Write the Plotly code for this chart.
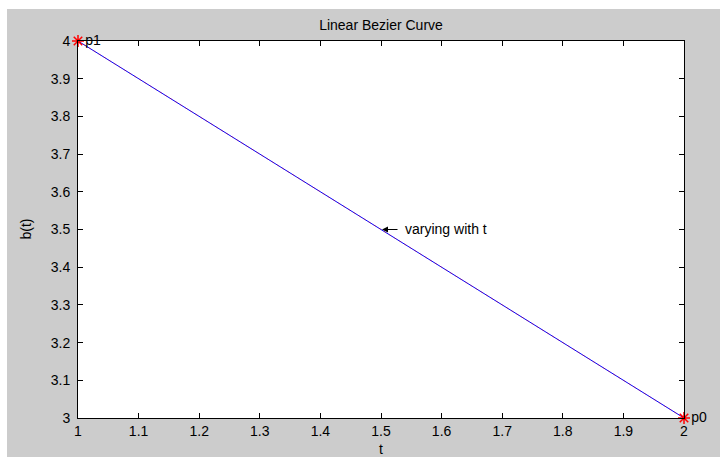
import plotly.graph_objects as go

# Data
t_vals = [1.0, 2.0]
b_vals = [4.0, 3.0]
pt_x = [1.0, 2.0]
pt_y = [4.0, 3.0]
pt_labels = ["p1", "p0"]
note_x, note_y, note_text = 1.5, 3.5, "varying with t"
x_ticks = [1, 1.1, 1.2, 1.3, 1.4, 1.5, 1.6, 1.7, 1.8, 1.9, 2]
y_ticks = [3, 3.1, 3.2, 3.3, 3.4, 3.5, 3.6, 3.7, 3.8, 3.9, 4]
x_title, y_title, main_title = "t", "b(t)", "Linear Bezier Curve"

W, H = 720, 457
L, R, T, B = 78, 36, 41, 39
pw, ph = W - L - R, H - T - B
FONT = "Liberation Sans, Arial"

def px2x(px):
    return (px - L) / pw

def py2y(py):
    return (H - B - py) / ph

fig = go.Figure()
fig.add_trace(go.Scatter(x=t_vals, y=b_vals, mode="lines",
                         line=dict(color="#0000ff", width=1), showlegend=False))
fig.add_trace(go.Scatter(x=t_vals, y=b_vals, mode="lines",
                         line=dict(color="#ff0000", width=1, dash="dot"),
                         opacity=0.35, showlegend=False))
fig.add_trace(go.Scatter(x=pt_x, y=pt_y, mode="markers+text",
                         marker=dict(symbol="asterisk", color="#ff0000", size=10,
                                     line=dict(color="#ff0000", width=1.5)),
                         text=pt_labels, textposition="middle right",
                         textfont=dict(family=FONT, size=14, color="#000000"),
                         cliponaxis=False, showlegend=False))

# arrow pointing at the curve
fig.add_annotation(x=note_x, y=note_y, text="", showarrow=True,
                   ax=18, ay=0, axref="pixel", ayref="pixel",
                   arrowhead=2, arrowsize=1, arrowwidth=1.2, arrowcolor="#000000",
                   standoff=1)
fig.add_annotation(x=note_x, y=note_y, text=note_text, showarrow=False,
                   xanchor="left", yanchor="middle", xshift=22, yshift=1,
                   font=dict(family=FONT, size=14, color="#000000"))

# axis titles
fig.add_annotation(xref="paper", yref="paper", x=0.5, y=py2y(449),
                   text=x_title, showarrow=False, xanchor="center", yanchor="middle",
                   font=dict(family=FONT, size=14, color="#000000"))
fig.add_annotation(xref="paper", yref="paper", x=px2x(25), y=0.5,
                   text=y_title, showarrow=False, textangle=-90,
                   xanchor="center", yanchor="middle",
                   font=dict(family=FONT, size=14, color="#000000"))

shapes = [
    dict(type="rect", xref="paper", yref="paper",
         x0=px2x(0), x1=px2x(7), y0=py2y(H), y1=py2y(0),
         fillcolor="white", line=dict(width=0), layer="below"),
    dict(type="rect", xref="paper", yref="paper",
         x0=px2x(0), x1=px2x(W), y0=py2y(9), y1=py2y(0),
         fillcolor="white", line=dict(width=0), layer="below"),
]

axis_common = dict(showgrid=False, zeroline=False, showline=True, linecolor="black",
                   linewidth=1, mirror="ticks", ticks="inside", ticklen=5,
                   tickcolor="black", automargin=False,
                   tickfont=dict(family=FONT, size=14, color="#000000"))

fig.update_layout(
    width=W, height=H,
    margin=dict(l=L, r=R, t=T, b=B, pad=0, autoexpand=False),
    paper_bgcolor="#cccccc", plot_bgcolor="white",
    shapes=shapes,
    title=dict(text=main_title, x=381 / W, xanchor="center",
               y=1 - 25 / H, yanchor="middle",
               font=dict(family=FONT, size=14, color="#000000")),
    xaxis=dict(range=[1, 2], tickvals=x_ticks, ticktext=[f"{v:g}" for v in x_ticks],
               ticklabelstandoff=0, **axis_common),
    yaxis=dict(range=[3, 4], tickvals=y_ticks, ticktext=[f"{v:g}" for v in y_ticks],
               ticklabelstandoff=4, **axis_common),
)

fig.write_html("out.html")
